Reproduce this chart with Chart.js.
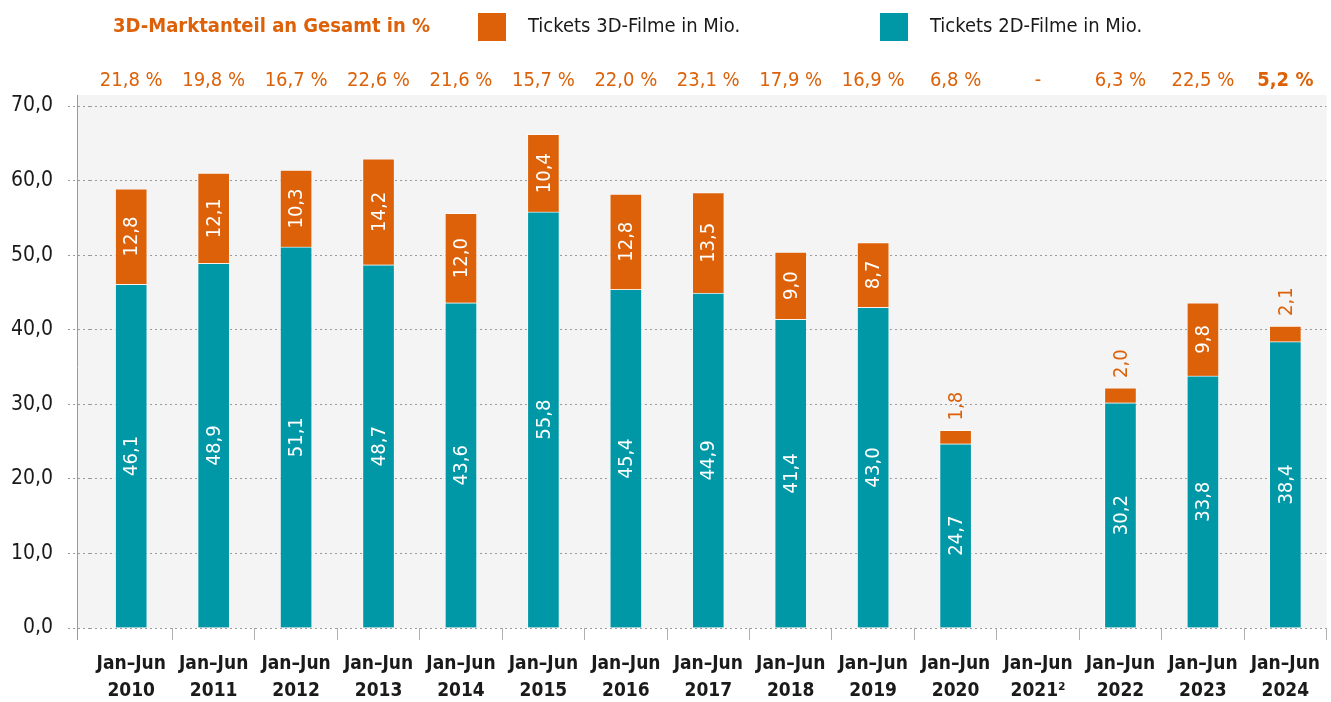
<!DOCTYPE html>
<html>
<head>
<meta charset="utf-8">
<script src="https://cdn.jsdelivr.net/npm/chart.js@4/dist/chart.umd.min.js"></script>
<style>
  html, body { margin: 0; padding: 0; background: #ffffff; }
  #wrap { width: 1331px; height: 702px; }
</style>
</head>
<body>
<div id="wrap"><canvas id="c" width="1331" height="702"></canvas></div>
<script>
const categories = [
  ["Jan–Jun", "2010"], ["Jan–Jun", "2011"], ["Jan–Jun", "2012"], ["Jan–Jun", "2013"],
  ["Jan–Jun", "2014"], ["Jan–Jun", "2015"], ["Jan–Jun", "2016"], ["Jan–Jun", "2017"],
  ["Jan–Jun", "2018"], ["Jan–Jun", "2019"], ["Jan–Jun", "2020"], ["Jan–Jun", "2021²"],
  ["Jan–Jun", "2022"], ["Jan–Jun", "2023"], ["Jan–Jun", "2024"]
];
const tickets2D = [46.1, 48.9, 51.1, 48.7, 43.6, 55.8, 45.4, 44.9, 41.4, 43.0, 24.7, null, 30.2, 33.8, 38.4];
const tickets3D = [12.8, 12.1, 10.3, 14.2, 12.0, 10.4, 12.8, 13.5, 9.0, 8.7, 1.8, null, 2.0, 9.8, 2.1];
const share3D = ["21,8 %", "19,8 %", "16,7 %", "22,6 %", "21,6 %", "15,7 %", "22,0 %", "23,1 %",
                 "17,9 %", "16,9 %", "6,8 %", "-", "6,3 %", "22,5 %", "5,2 %"];
const shareBold = [false, false, false, false, false, false, false, false, false, false, false, false, false, false, true];
const yTicks = { min: 0, max: 70, step: 10 };
const legendTitle = "3D-Marktanteil an Gesamt in %";
const seriesNames = ["Tickets 2D-Filme in Mio.", "Tickets 3D-Filme in Mio."];

const ORANGE = "#dc6108";
const TEAL = "#0098a6";
const FONT = '"Liberation Sans Narrow", "DejaVu Sans Condensed", "Roboto Condensed", "Noto Sans", sans-serif';

const fmt = v => v.toFixed(1).replace('.', ',');

const decorPlugin = {
  id: 'decor',
  beforeDraw(chart) {
    const { ctx, chartArea } = chart;
    ctx.save();
    ctx.fillStyle = '#ffffff';
    ctx.fillRect(0, 0, chart.width, chart.height);
    ctx.fillStyle = '#f4f4f4';
    ctx.fillRect(77, 95, chartArea.right - 77, chartArea.bottom - 95);
    ctx.restore();
  },
  beforeDatasetsDraw(chart) {
    const { ctx, chartArea } = chart;
    ctx.save();
    ctx.strokeStyle = '#9a9a9a';
    ctx.lineWidth = 1;
    ctx.beginPath();
    ctx.moveTo(77.5, 95);
    ctx.lineTo(77.5, chartArea.bottom + 12);
    ctx.stroke();
    ctx.restore();
  },
  afterDatasetsDraw(chart) {
    const { ctx } = chart;
    const xs = chart.scales.x;
    ctx.save();
    // Legend / title row
    ctx.textBaseline = 'middle';
    ctx.textAlign = 'left';
    ctx.fillStyle = ORANGE;
    ctx.font = 'bold 20px ' + FONT;
    ctx.fillText(legendTitle, 113, 27);
    ctx.fillStyle = ORANGE;
    ctx.fillRect(478, 13, 28, 28);
    ctx.fillStyle = TEAL;
    ctx.fillRect(880, 13, 28, 28);
    ctx.fillStyle = '#1a1a1a';
    ctx.font = '20px ' + FONT;
    ctx.fillText(seriesNames[1], 528, 27);
    ctx.fillText(seriesNames[0], 930, 27);

    // Percent row
    ctx.textAlign = 'center';
    ctx.fillStyle = ORANGE;
    share3D.forEach((s, i) => {
      ctx.font = (shareBold[i] ? 'bold ' : '') + '20px ' + FONT;
      ctx.fillText(s, xs.getPixelForValue(i), 81);
    });

    // Bar value labels (rotated)
    ctx.font = '20px ' + FONT;
    const m2 = chart.getDatasetMeta(0);
    const m3 = chart.getDatasetMeta(1);
    m2.data.forEach((el, i) => {
      const v = tickets2D[i];
      if (v == null) return;
      const cy = (el.y + el.base) / 2;
      ctx.save();
      ctx.translate(el.x, cy);
      ctx.rotate(-Math.PI / 2);
      ctx.textAlign = 'center';
      ctx.textBaseline = 'middle';
      ctx.fillStyle = '#ffffff';
      ctx.fillText(fmt(v), 0, 1);
      ctx.restore();
    });
    m3.data.forEach((el, i) => {
      const v = tickets3D[i];
      if (v == null) return;
      ctx.save();
      if (v >= 5) {
        const cy = (el.y + el.base) / 2;
        ctx.translate(el.x, cy);
        ctx.rotate(-Math.PI / 2);
        ctx.textAlign = 'center';
        ctx.fillStyle = '#ffffff';
      } else {
        ctx.translate(el.x, el.y - 10);
        ctx.rotate(-Math.PI / 2);
        ctx.textAlign = 'left';
        ctx.fillStyle = ORANGE;
      }
      ctx.textBaseline = 'middle';
      ctx.fillText(fmt(v), 0, 1);
      ctx.restore();
    });
    ctx.restore();
  }
};

new Chart(document.getElementById('c'), {
  type: 'bar',
  data: {
    labels: categories,
    datasets: [
      { label: seriesNames[0], data: tickets2D, backgroundColor: TEAL, borderColor: 'rgba(255,255,255,0.6)', borderWidth: 1, barThickness: 32 },
      { label: seriesNames[1], data: tickets3D, backgroundColor: ORANGE, borderColor: 'rgba(255,255,255,0.6)', borderWidth: 1, barThickness: 32 }
    ]
  },
  options: {
    responsive: false,
    animation: false,
    devicePixelRatio: 1,
    layout: { padding: { top: 106, left: 0, right: 0, bottom: 0 } },
    plugins: { legend: { display: false }, tooltip: { enabled: false } },
    scales: {
      x: {
        stacked: true,
        offset: true,
        afterFit(scale) { scale.height = 74; },
        grid: {
          offset: true, drawOnChartArea: false, drawTicks: true, tickLength: 12,
          color: c => (c.index === 0 ? 'rgba(0,0,0,0)' : '#b0b0b0')
        },
        border: { display: false },
        ticks: {
          color: '#1a1a1a',
          padding: 11,
          maxRotation: 0,
          autoSkip: false,
          font: { family: FONT, size: 19, weight: 'bold', lineHeight: 1.42 }
        }
      },
      y: {
        stacked: true,
        min: yTicks.min,
        max: yTicks.max,
        afterFit(scale) { scale.width = 90; },
        grid: { color: '#9a9a9a', tickLength: 22, tickColor: '#9a9a9a', tickBorderDash: [2, 3] },
        border: { display: false, dash: [2, 3] },
        ticks: {
          stepSize: yTicks.step,
          padding: 15,
          color: '#1a1a1a',
          font: { family: FONT, size: 21 },
          callback: v => fmt(v)
        }
      }
    }
  },
  plugins: [decorPlugin]
});
</script>
</body>
</html>
